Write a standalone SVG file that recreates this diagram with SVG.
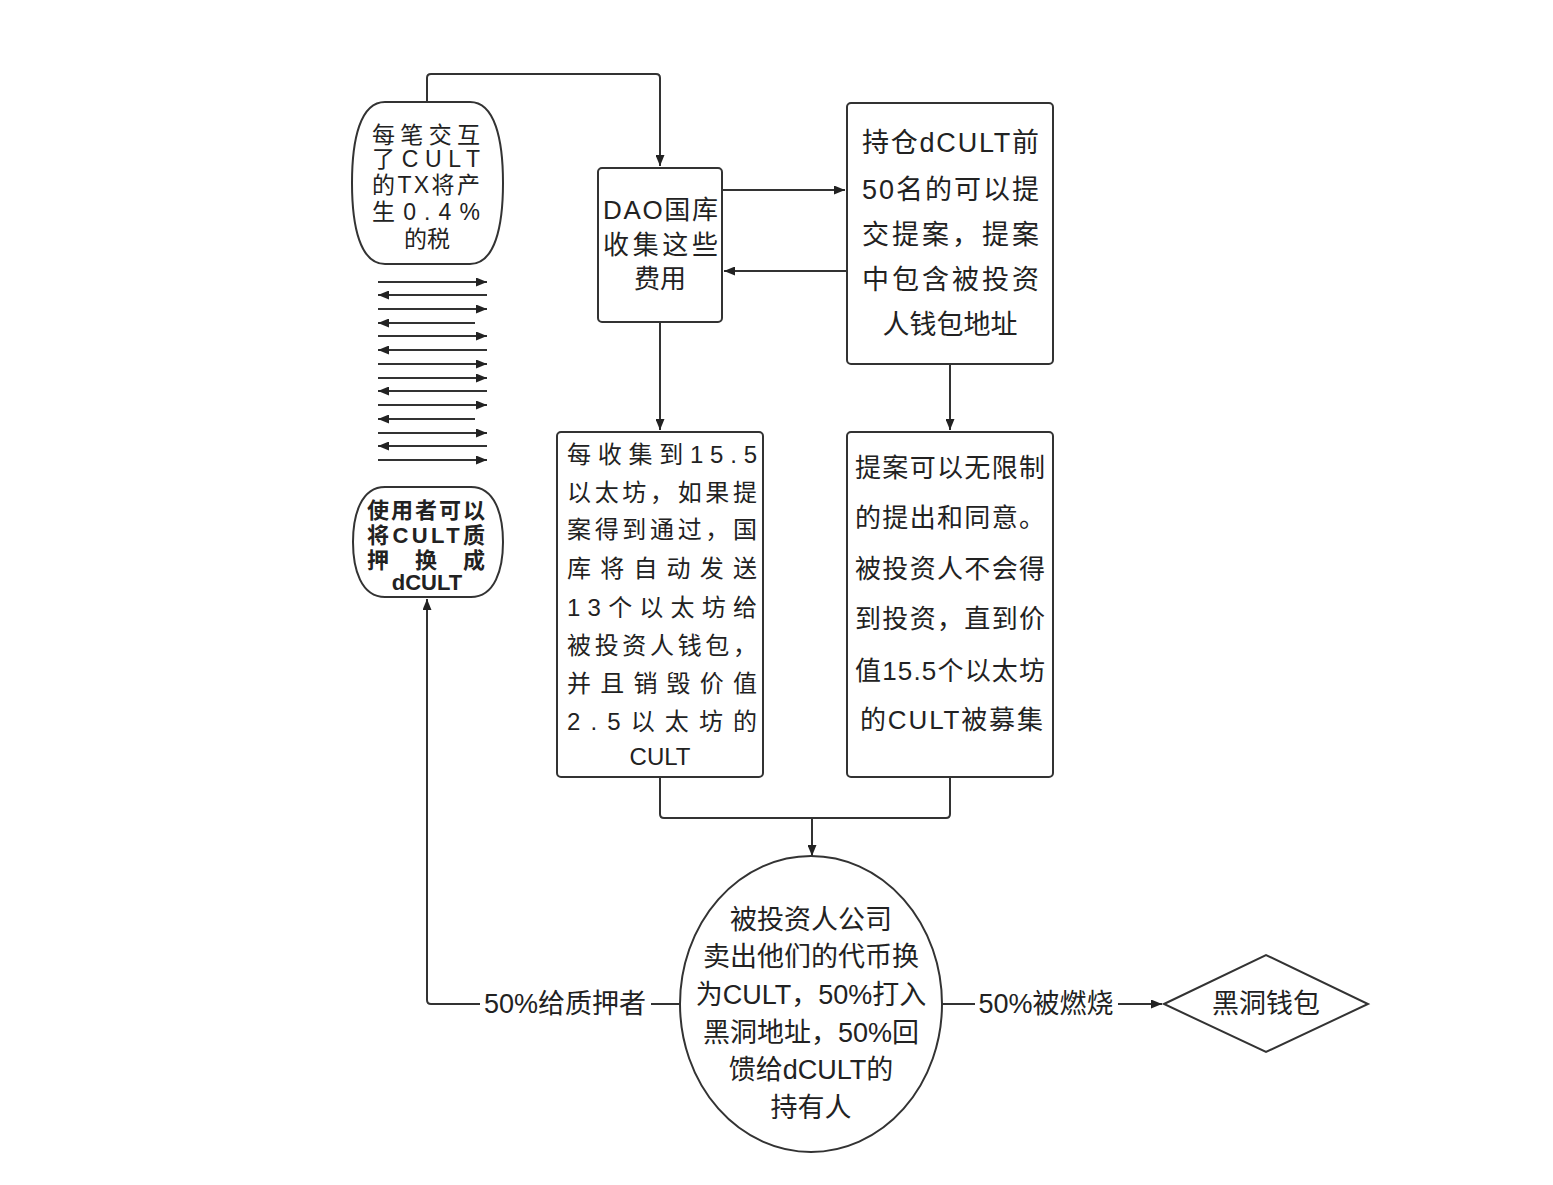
<svg xmlns="http://www.w3.org/2000/svg" width="1553" height="1185" viewBox="0 0 1553 1185">
<style>
.shape{fill:#fff;stroke:#333;stroke-width:2}
.ln{fill:none;stroke:#333;stroke-width:2}
text{font-family:"Liberation Sans","Noto Sans CJK SC",sans-serif;fill:#222;dominant-baseline:central}
.t23{font-size:23px}
.t22{font-size:22px;font-weight:bold}
.t24{font-size:24px}
.t26{font-size:26px}
.t27{font-size:27px}
.m{text-anchor:middle}
</style>
<defs>
<marker id="ah" viewBox="0 0 11 9" refX="11" refY="4.5" markerWidth="11" markerHeight="9" markerUnits="userSpaceOnUse" orient="auto-start-reverse">
<path d="M0,0 L11,4.5 L0,9 Z" fill="#222"/>
</marker>
</defs>
<rect width="1553" height="1185" fill="#fff"/>

<g id="connectors">
<path class="ln" d="M427,101 V78 Q427,74 431,74 H656 Q660,74 660,78 V166" marker-end="url(#ah)"/>
<path class="ln" d="M722,190 H845" marker-end="url(#ah)"/>
<path class="ln" d="M847,271 H724" marker-end="url(#ah)"/>
<path class="ln" d="M660,322 V430" marker-end="url(#ah)"/>
<path class="ln" d="M950,364 V430" marker-end="url(#ah)"/>
<path class="ln" d="M660,777 V814 Q660,818 664,818 H946 Q950,818 950,814 V777"/>
<path class="ln" d="M812,818 V856" marker-end="url(#ah)"/>
<path class="ln" d="M680,1004 H651"/>
<path class="ln" d="M480,1004 H431 Q427,1004 427,1000 V599" marker-end="url(#ah)"/>
<text class="t27 m" x="565" y="1004">50%给质押者</text>
<path class="ln" d="M942,1004 H975"/>
<path class="ln" d="M1118,1004 H1162" marker-end="url(#ah)"/>
<text class="t27 m" x="1046" y="1004">50%被燃烧</text>
</g>

<g id="arrow-stack">
<path class="ln" d="M378,282 H487" marker-end="url(#ah)"/>
<path class="ln" d="M378,295 H487" marker-start="url(#ah)"/>
<path class="ln" d="M378,309 H487" marker-end="url(#ah)"/>
<path class="ln" d="M378,323 H475" marker-start="url(#ah)"/>
<path class="ln" d="M378,336 H487" marker-end="url(#ah)"/>
<path class="ln" d="M378,350 H487" marker-start="url(#ah)"/>
<path class="ln" d="M378,364 H487" marker-end="url(#ah)"/>
<path class="ln" d="M378,378 H487" marker-end="url(#ah)"/>
<path class="ln" d="M378,391 H487" marker-start="url(#ah)"/>
<path class="ln" d="M378,405 H487" marker-end="url(#ah)"/>
<path class="ln" d="M378,419 H475" marker-start="url(#ah)"/>
<path class="ln" d="M378,433 H487" marker-end="url(#ah)"/>
<path class="ln" d="M378,446 H487" marker-start="url(#ah)"/>
<path class="ln" d="M378,460 H487" marker-end="url(#ah)"/>
</g>

<g id="node-tax">
<path class="shape" d="M385,102 H470 C495,102 503,140 503,183 C503,226 495,264 470,264 H385 C360,264 352,226 352,183 C352,140 360,102 385,102 Z"/>
<text class="t23" x="372" y="135" textLength="108" lengthAdjust="spacing">每笔交互</text>
<text class="t23" x="372" y="159" textLength="108" lengthAdjust="spacing">了CULT</text>
<text class="t23" x="372" y="185" textLength="108" lengthAdjust="spacing">的TX将产</text>
<text class="t23" x="372" y="212" textLength="108" lengthAdjust="spacing">生0.4%</text>
<text class="t23 m" x="427" y="239">的税</text>
</g>

<g id="node-stake">
<path class="shape" d="M385,487 H471 C495,487 503,515 503,542 C503,569 495,597 471,597 H385 C361,597 353,569 353,542 C353,515 361,487 385,487 Z"/>
<text class="t22" x="367" y="510" textLength="118" lengthAdjust="spacing">使用者可以</text>
<text class="t22" x="367" y="535" textLength="118" lengthAdjust="spacing">将CULT质</text>
<text class="t22" x="367" y="560" textLength="118" lengthAdjust="spacing">押换成</text>
<text class="t22 m" x="427" y="582">dCULT</text>
</g>

<g id="node-dao">
<rect class="shape" x="598" y="168" width="124" height="154" rx="4"/>
<text class="t26" x="603" y="210" textLength="115" lengthAdjust="spacing">DAO国库</text>
<text class="t26" x="603" y="245" textLength="115" lengthAdjust="spacing">收集这些</text>
<text class="t26 m" x="660" y="279">费用</text>
</g>

<g id="node-proposal">
<rect class="shape" x="847" y="103" width="206" height="261" rx="4"/>
<text class="t27" x="862" y="143" textLength="177" lengthAdjust="spacing">持仓dCULT前</text>
<text class="t27" x="862" y="190" textLength="177" lengthAdjust="spacing">50名的可以提</text>
<text class="t27" x="862" y="235" textLength="177" lengthAdjust="spacing">交提案，提案</text>
<text class="t27" x="862" y="280" textLength="177" lengthAdjust="spacing">中包含被投资</text>
<text class="t27 m" x="950" y="325">人钱包地址</text>
</g>

<g id="node-send">
<rect class="shape" x="557" y="432" width="206" height="345" rx="4"/>
<text class="t24" x="567" y="454" textLength="190" lengthAdjust="spacing">每收集到15.5</text>
<text class="t24" x="567" y="492" textLength="190" lengthAdjust="spacing">以太坊，如果提</text>
<text class="t24" x="567" y="529" textLength="190" lengthAdjust="spacing">案得到通过，国</text>
<text class="t24" x="567" y="568" textLength="190" lengthAdjust="spacing">库将自动发送</text>
<text class="t24" x="567" y="607" textLength="190" lengthAdjust="spacing">13个以太坊给</text>
<text class="t24" x="567" y="645" textLength="190" lengthAdjust="spacing">被投资人钱包，</text>
<text class="t24" x="567" y="683" textLength="190" lengthAdjust="spacing">并且销毁价值</text>
<text class="t24" x="567" y="721" textLength="190" lengthAdjust="spacing">2.5以太坊的</text>
<text class="t24 m" x="660" y="756">CULT</text>
</g>

<g id="node-unlimited">
<rect class="shape" x="847" y="432" width="206" height="345" rx="4"/>
<text class="t26" x="855" y="468" textLength="190" lengthAdjust="spacing">提案可以无限制</text>
<text class="t26" x="855" y="518" textLength="190" lengthAdjust="spacing">的提出和同意。</text>
<text class="t26" x="855" y="569" textLength="190" lengthAdjust="spacing">被投资人不会得</text>
<text class="t26" x="855" y="619" textLength="190" lengthAdjust="spacing">到投资，直到价</text>
<text class="t26" x="855" y="671" textLength="190" lengthAdjust="spacing">值15.5个以太坊</text>
<text class="t26" x="860" y="720" textLength="183" lengthAdjust="spacing">的CULT被募集</text>
</g>

<g id="node-investee">
<ellipse class="shape" cx="811" cy="1004" rx="131" ry="148"/>
<text class="t27 m" x="811" y="920">被投资人公司</text>
<text class="t27 m" x="811" y="957">卖出他们的代币换</text>
<text class="t27 m" x="811" y="995">为CULT，50%打入</text>
<text class="t27 m" x="811" y="1033">黑洞地址，50%回</text>
<text class="t27 m" x="811" y="1070">馈给dCULT的</text>
<text class="t27 m" x="811" y="1108">持有人</text>
</g>

<g id="node-blackhole">
<path class="shape" d="M1164,1004 L1266,955 L1368,1004 L1266,1052 Z"/>
<text class="t27 m" x="1266" y="1004">黑洞钱包</text>
</g>
</svg>
